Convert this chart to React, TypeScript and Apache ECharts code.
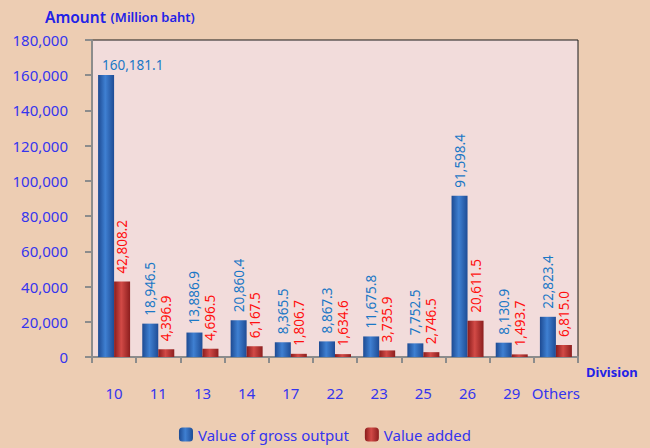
import React, { useEffect, useRef } from "react";
import * as echarts from "echarts";

const categories = ["10", "11", "13", "14", "17", "22", "23", "25", "26", "29", "Others"];
const grossOutput = [160181.1, 18946.5, 13886.9, 20860.4, 8365.5, 8867.3, 11675.8, 7752.5, 91598.4, 8130.9, 22823.4];
const valueAdded = [42808.2, 4396.9, 4696.5, 6167.5, 1806.7, 1634.6, 3735.9, 2746.5, 20611.5, 1493.7, 6815.0];

const fmt = (v: number) =>
  v.toLocaleString("en-US", { minimumFractionDigits: 1, maximumFractionDigits: 1 });

const FONT = "Noto Sans";
const AXIS_BLUE = "#3535EE";

export default function App() {
  const ref = useRef<HTMLDivElement>(null);
  useEffect(() => {
    if (!ref.current) return;
    const chart = echarts.init(ref.current, null, { renderer: "svg" });
    const blueGrad = new echarts.graphic.LinearGradient(0, 0, 1, 0, [
      { offset: 0, color: "#1D4A92" },
      { offset: 0.45, color: "#3F80D2" },
      { offset: 1, color: "#1E4C95" },
    ]);
    const redGrad = new echarts.graphic.LinearGradient(0, 0, 1, 0, [
      { offset: 0, color: "#8A1C1C" },
      { offset: 0.45, color: "#D24A46" },
      { offset: 1, color: "#8C1E1E" },
    ]);
    const rotLabel = (color: string) => ({
      show: true,
      position: "top",
      rotate: 90,
      align: "left",
      verticalAlign: "middle",
      distance: 8,
      color,
      fontFamily: FONT,
      fontSize: 13.5,
      formatter: (p: any) => fmt(p.value),
    });
    chart.setOption({
      animation: false,
      backgroundColor: "#EDCDB3",
      textStyle: { fontFamily: FONT },
      title: {
        left: 40,
        top: 3,
        text: "{a|Amount} {b|(Million baht)}",
        textStyle: {
          rich: {
            a: { fontFamily: FONT, fontSize: 15.5, fontWeight: 600, color: "#2222E6" },
            b: { fontFamily: FONT, fontSize: 13, fontWeight: 600, color: "#2222E6" },
          },
        },
      },
      legend: {
        top: 422,
        left: "center",
        itemWidth: 14,
        itemHeight: 14,
        itemGap: 16,
        textStyle: { color: AXIS_BLUE, fontFamily: FONT, fontSize: 15 },
        data: ["Value of gross output", "Value added"],
      },
      grid: {
        left: 92,
        right: 72,
        top: 40,
        bottom: 91,
        show: true,
        backgroundColor: "#F2DCDB",
        borderColor: "#1A1A1A",
        borderWidth: 1,
      },
      xAxis: {
        type: "category",
        data: categories,
        name: "Division",
        nameLocation: "end",
        nameGap: 8,
        nameTextStyle: {
          color: "#2222E6",
          fontWeight: "bold",
          fontFamily: FONT,
          fontSize: 13,
          verticalAlign: "top",
          padding: [8, 0, 0, 0],
        },
        axisLine: { lineStyle: { color: "#8C8C8C", width: 2 } },
        axisTick: { show: true, length: 6, lineStyle: { color: "#8C8C8C", width: 2 } },
        axisLabel: { color: AXIS_BLUE, fontFamily: FONT, fontSize: 15, margin: 28, interval: 0 },
      },
      yAxis: {
        type: "value",
        min: 0,
        max: 180000,
        interval: 20000,
        splitLine: { show: false },
        axisLine: { show: true, lineStyle: { color: "#8C8C8C", width: 2 } },
        axisTick: { show: true, length: 7, lineStyle: { color: "#8C8C8C", width: 2 } },
        axisLabel: {
          color: AXIS_BLUE,
          fontFamily: FONT,
          fontSize: 15,
          margin: 24,
          formatter: (v: number) => v.toLocaleString("en-US"),
        },
      },
      series: [
        {
          name: "Value of gross output",
          type: "bar",
          barWidth: 16,
          barGap: "0%",
          itemStyle: { color: blueGrad },
          label: rotLabel("#1B78C6"),
          data: grossOutput.map((v, i) =>
            i === 0
              ? {
                  value: v,
                  label: {
                    show: true,
                    position: "top",
                    rotate: 0,
                    align: "left",
                    verticalAlign: "bottom",
                    distance: 3,
                    offset: [-4, 0],
                    color: "#1B78C6",
                    fontFamily: FONT,
                    fontSize: 13.5,
                    formatter: (p: any) => fmt(p.value),
                  },
                }
              : v
          ),
        },
        {
          name: "Value added",
          type: "bar",
          barWidth: 16,
          itemStyle: { color: redGrad },
          label: rotLabel("#FF1010"),
          data: valueAdded,
        },
      ],
    });
    return () => chart.dispose();
  }, []);
  return <div ref={ref} style={{ width: 650, height: 448, position: "absolute", left: 0, top: 0 }} />;
}
